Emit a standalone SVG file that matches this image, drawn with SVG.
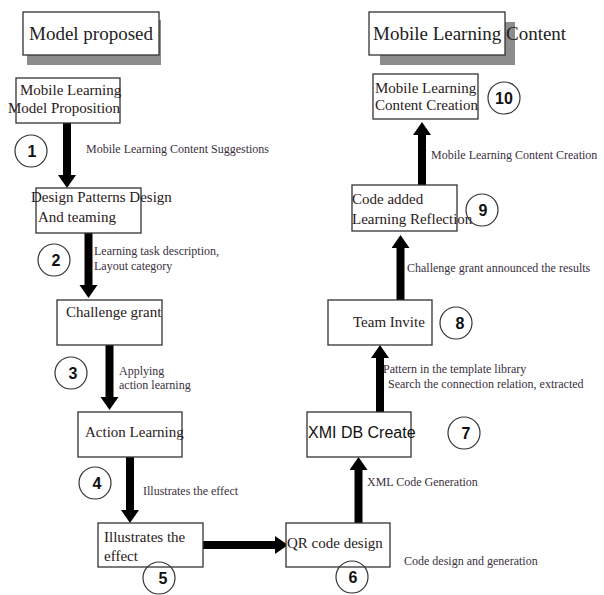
<svg xmlns="http://www.w3.org/2000/svg" width="604" height="595" viewBox="0 0 604 595">
<style>
.box{fill:#fff;stroke:#333;stroke-width:1.3}
.shadow{fill:#8c8c8c}
.t{font-family:"Liberation Serif","Times New Roman",serif;font-size:15px;fill:#2a2020}
.title{font-family:"Liberation Serif","Times New Roman",serif;font-size:19px;fill:#222}
.lbl{font-family:"Liberation Serif","Times New Roman",serif;font-size:12px;fill:#3a3040}
.circ{fill:none;stroke:#333;stroke-width:1.2}
.num{font-family:"Liberation Sans",Arial,sans-serif;font-size:16px;font-weight:bold;fill:#111;text-anchor:middle}
.ar{stroke:#000;stroke-width:8;fill:none;marker-end:url(#head)}
</style>
<defs>
<marker id="head" markerUnits="userSpaceOnUse" markerWidth="14" markerHeight="20" refX="0" refY="9" orient="auto">
<path d="M0,0 L13,9 L0,18 Z" fill="#000"/>
</marker>
</defs>
<g id="title-model">
<rect class="shadow" x="27" y="20" width="134" height="45"/>
<rect class="box" x="23" y="12" width="136" height="43"/>
<text class="title" x="29" y="40">Model proposed</text>
</g>
<g id="title-content">
<rect class="shadow" x="380" y="22" width="135" height="43"/>
<rect class="box" x="369" y="12" width="136" height="43"/>
<text class="title" x="373" y="40">Mobile Learning Content</text>
</g>
<g id="connectors">
<line class="ar" x1="67" y1="123" x2="67" y2="175"/>
<line class="ar" x1="88.5" y1="233" x2="88.5" y2="285"/>
<line class="ar" x1="109.5" y1="345" x2="109.5" y2="397"/>
<line class="ar" x1="130" y1="457" x2="130" y2="510"/>
<line class="ar" x1="203" y1="545" x2="275" y2="545"/>
<line class="ar" x1="358.5" y1="523" x2="358.5" y2="470"/>
<line class="ar" x1="380" y1="412" x2="380" y2="358"/>
<line class="ar" x1="400.5" y1="300" x2="400.5" y2="248"/>
<line class="ar" x1="422" y1="185" x2="422" y2="135"/>
</g>
<g id="labels">
<text class="lbl" x="86" y="153">Mobile Learning Content Suggestions</text>
<text class="lbl" x="94" y="255">Learning task description,</text>
<text class="lbl" x="94" y="270">Layout category</text>
<text class="lbl" x="119" y="375">Applying</text>
<text class="lbl" x="119" y="389">action learning</text>
<text class="lbl" x="143" y="495">Illustrates the effect</text>
<text class="lbl" x="404" y="565">Code design and generation</text>
<text class="lbl" x="367" y="486">XML Code Generation</text>
<text class="lbl" x="383" y="373">Pattern in the template library</text>
<text class="lbl" x="388" y="388">Search the connection relation, extracted</text>
<text class="lbl" x="407" y="272">Challenge grant announced the results</text>
<text class="lbl" x="431" y="159">Mobile Learning Content Creation</text>
</g>
<g id="n1">
<rect class="box" x="16" y="78" width="104" height="45"/>
<text class="t" x="20" y="95">Mobile Learning</text>
<text class="t" x="8" y="113">Model Proposition</text>
<circle class="circ" cx="31" cy="151" r="16"/>
<text class="num" x="32" y="157">1</text>
</g>
<g id="n2">
<rect class="box" x="36" y="188" width="105" height="45"/>
<text class="t" x="31" y="202">Design Patterns Design</text>
<text class="t" x="38" y="222">And teaming</text>
<circle class="circ" cx="54" cy="260" r="16"/>
<text class="num" x="56" y="266">2</text>
</g>
<g id="n3">
<rect class="box" x="57" y="300" width="105" height="45"/>
<text class="t" x="66" y="317">Challenge grant</text>
<circle class="circ" cx="71" cy="373" r="16"/>
<text class="num" x="73" y="379">3</text>
</g>
<g id="n4">
<rect class="box" x="78" y="412" width="104" height="45"/>
<text class="t" x="85" y="437">Action Learning</text>
<circle class="circ" cx="95" cy="483" r="16"/>
<text class="num" x="97" y="489">4</text>
</g>
<g id="n5">
<rect class="box" x="98" y="523" width="105" height="44"/>
<text class="t" x="104" y="542">Illustrates the</text>
<text class="t" x="104" y="561">effect</text>
<circle class="circ" cx="159" cy="578" r="16"/>
<text class="num" x="163" y="584">5</text>
</g>
<g id="n6">
<rect class="box" x="286" y="523" width="104" height="44"/>
<text class="t" x="287" y="548">QR code design</text>
<circle class="circ" cx="352" cy="577" r="16"/>
<text class="num" x="353" y="583">6</text>
</g>
<g id="n7">
<rect class="box" x="307" y="412" width="104" height="45"/>
<text x="308" y="438" style="font-family:'Liberation Sans',Arial,sans-serif;font-size:16px;fill:#111">XMI DB Create</text>
<circle class="circ" cx="464" cy="433" r="16"/>
<text class="num" x="466" y="439">7</text>
</g>
<g id="n8">
<rect class="box" x="328" y="300" width="104" height="45"/>
<text class="t" x="353" y="327">Team Invite</text>
<circle class="circ" cx="456" cy="323" r="16"/>
<text class="num" x="460" y="329">8</text>
</g>
<g id="n9">
<rect class="box" x="352" y="185" width="105" height="46"/>
<text class="t" x="352" y="204">Code added</text>
<text class="t" x="352" y="224">Learning Reflection</text>
<circle class="circ" cx="482" cy="210" r="16"/>
<text class="num" x="483" y="216">9</text>
</g>
<g id="n10">
<rect class="box" x="373" y="74" width="105" height="45"/>
<text class="t" x="375" y="93">Mobile Learning</text>
<text class="t" x="375" y="110">Content Creation</text>
<circle class="circ" cx="504" cy="98" r="16"/>
<text class="num" x="504" y="104">10</text>
</g>
</svg>
